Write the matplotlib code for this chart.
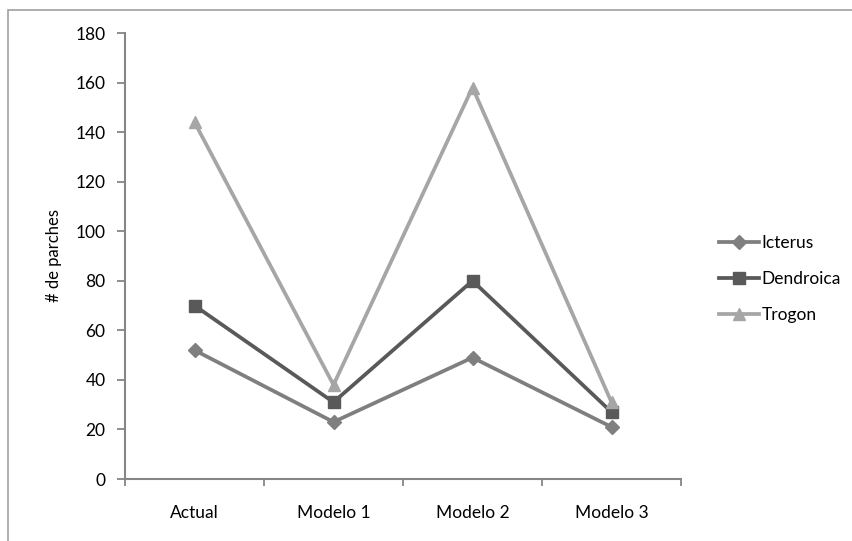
import matplotlib.pyplot as plt
import matplotlib.patches as patches
import numpy as np

plt.rcParams['font.family'] = ['Lato', 'DejaVu Sans']

categorias = ['Actual', 'Modelo 1', 'Modelo 2', 'Modelo 3']
icterus = [52, 23, 49, 21]
dendroica = [70, 31, 80, 27]
trogon = [144, 38, 158, 31]

series = [
    ('Icterus', icterus, '#7f7f7f', 'D', 7),
    ('Dendroica', dendroica, '#595959', 's', 8.5),
    ('Trogon', trogon, '#a6a6a6', '^', 8.5),
]

fig = plt.figure(figsize=(8.52, 5.41), dpi=100)
ax = fig.add_axes([125 / 852, 62 / 541, 556 / 852, 446 / 541])

# marco exterior del grafico
marco = patches.Rectangle((8 / 852, -0.1), 1.1, 1.1 - 10 / 541,
                          transform=fig.transFigure, fill=False,
                          edgecolor='#a0a0a0', linewidth=1.2)
fig.patches.append(marco)

x = np.arange(len(categorias))
for nombre, valores, color, marcador, tam in series:
    ax.plot(x, valores, color=color, linewidth=2.7, marker=marcador,
            markersize=tam, markerfacecolor=color, markeredgecolor=color,
            label=nombre)

ax.set_xlim(-0.5, len(categorias) - 0.5)
ax.set_ylim(0, 180)
ax.set_yticks(np.arange(0, 181, 20))
ax.set_xticks(x)
ax.set_xticklabels(categorias)
ax.set_xticks(np.arange(-0.5, len(categorias), 1), minor=True)
ax.tick_params(axis='x', which='major', length=0, pad=19, labelsize=12.5)
ax.tick_params(axis='x', which='minor', length=5, width=1.3, color='#868686')
ax.tick_params(axis='y', length=6, width=1.3, color='#868686', labelsize=12.5, pad=8)

for lado in ['top', 'right']:
    ax.spines[lado].set_visible(False)
for lado in ['left', 'bottom']:
    ax.spines[lado].set_color('#868686')
    ax.spines[lado].set_linewidth(1.5)

ax.set_ylabel('# de parches', fontsize=12, labelpad=10)

ax.legend(loc='center left', bbox_to_anchor=(1.04, 0.448), frameon=False,
          fontsize=12.5, handlelength=2.3, labelspacing=1.15, handletextpad=0.15)

fig.savefig('out.png', dpi=100)
